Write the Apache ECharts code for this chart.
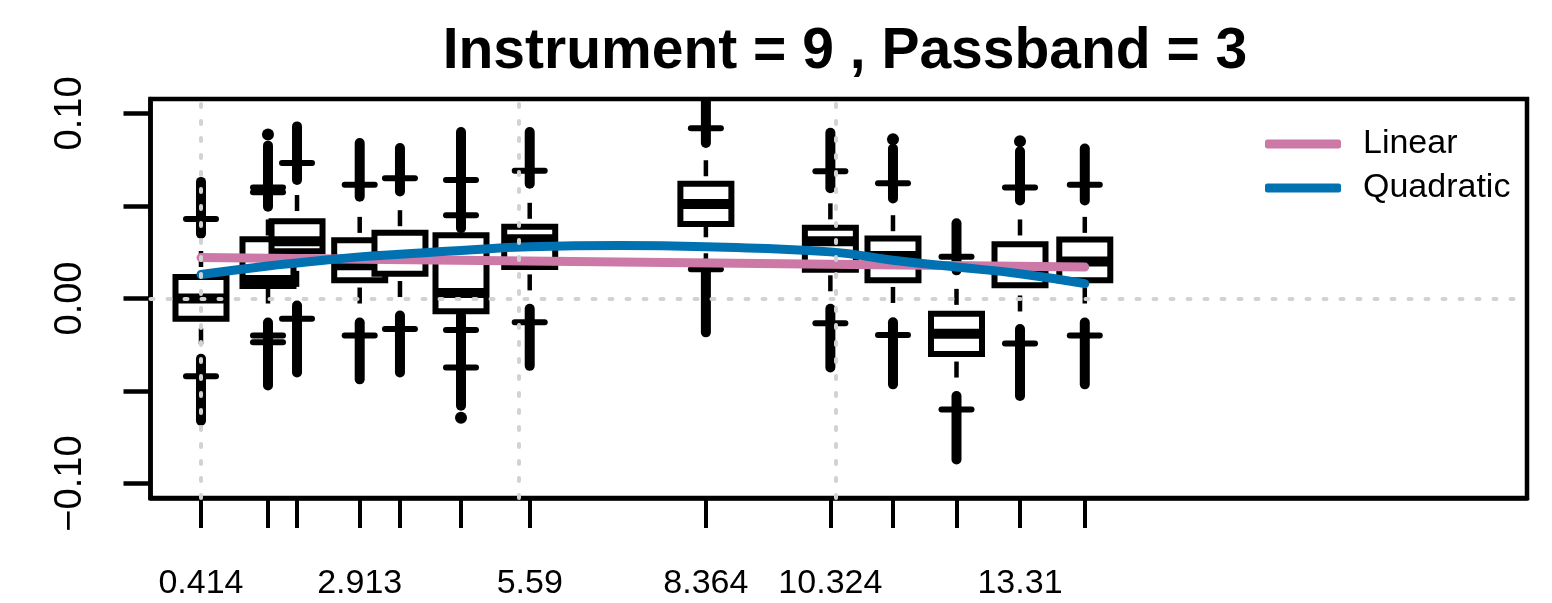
<!DOCTYPE html>
<html>
<head>
<meta charset="utf-8">
<script src="https://cdn.jsdelivr.net/npm/echarts@6/dist/echarts.min.js"></script>
<style>
  html, body { margin: 0; padding: 0; background: #fff; }
  #myChart { width: 1552px; height: 603px; }
</style>
</head>
<body>
<div id="myChart"></div>
<script>
// box positions (x) and the labels R kept on the axis
var positions = [0.414, 1.469, 1.926, 2.913, 3.547, 4.508, 5.59, 8.364, 10.324, 11.31, 12.31, 13.31, 14.33];
var xLabels = [0.414, 2.913, 5.59, 8.364, 10.324, 13.31];
var yTicks = [-0.1, -0.05, 0, 0.05, 0.1];
var yLabels = [-0.1, 0, 0.1];
var refLinesX = [0.414, 5.42, 10.41];

// box statistics
var q1 = [-0.011, 0.0067, 0.0255, 0.0098, 0.0134, -0.0069, 0.017, 0.0402, 0.0156, 0.0098, -0.030, 0.0071, 0.0098];
var median = [0.000, 0.010, 0.031, 0.018, 0.023, 0.003, 0.032, 0.051, 0.031, 0.023, -0.019, 0.016, 0.020];
var q3 = [0.0116, 0.032, 0.0418, 0.0315, 0.0355, 0.0342, 0.0388, 0.062, 0.0382, 0.0324, -0.0083, 0.0293, 0.0319];
var whiskerLo = [-0.042, -0.020, -0.011, -0.020, -0.0165, -0.017, -0.0129, 0.0158, -0.0134, -0.0197, -0.060, -0.0243, -0.020];
var whiskerHi = [0.043, 0.060, 0.0732, 0.0614, 0.065, 0.045, 0.069, 0.092, 0.0687, 0.0623, 0.0225, 0.060, 0.0614];
var extraHi = [null, 0.0574, null, null, null, 0.064, null, null, null, null, null, null, null];
var extraLo = [null, -0.0237, null, null, null, -0.0373, null, null, null, null, null, null, null];
// outlier runs (dense points) below and above each box
var outLoTop = [-0.0326, -0.013, -0.0038, -0.013, -0.0092, -0.0092, -0.0055, 0.019, -0.0056, -0.0129, -0.0527, -0.0165, -0.013];
var outLoBottom = [-0.066, -0.047, -0.040, -0.0437, -0.040, -0.058, -0.0364, -0.0183, -0.0373, -0.0464, -0.087, -0.0527, -0.0464];
var outHiBottom = [0.035, 0.0496, 0.064, 0.055, 0.0578, 0.038, 0.062, 0.084, 0.0596, 0.054, 0.0152, 0.053, 0.053];
var outHiTop = [0.063, 0.0826, 0.093, 0.084, 0.0813, 0.090, 0.090, 0.12, 0.0895, 0.081, 0.0406, 0.0795, 0.081];
var loneOutliers = [[1.469, 0.0886], [4.508, -0.0645], [11.31, 0.086], [13.31, 0.085]];

// fitted curves
var linearFit = [[0.414, 0.0221], [14.33, 0.0170]];
var quadX = [0.414, 1.469, 1.926, 2.913, 3.547, 4.508, 5.59, 7.0, 8.364, 10.324, 11.31, 12.31, 13.31, 14.33];
var quadY = [0.013, 0.0176, 0.0192, 0.0225, 0.0239, 0.026, 0.0279, 0.0286, 0.0279, 0.0252, 0.0207, 0.017, 0.0134, 0.008];

document.addEventListener('DOMContentLoaded', () => {
    var myChart = echarts.init(document.getElementById('myChart'));
    var font = 'Liberation Sans';

    var boxData = positions.map(function (x, i) {
        return [x, q1[i], median[i], q3[i], whiskerLo[i], whiskerHi[i],
            outLoTop[i], outLoBottom[i], outHiBottom[i], outHiTop[i],
            extraLo[i] == null ? NaN : extraLo[i], extraHi[i] == null ? NaN : extraHi[i]];
    });

    // one R-style box: fill, median, dashed whiskers, staples, border, outliers
    function renderBox(params, api) {
        var x = api.value(0);
        var cx = api.coord([x, 0])[0];
        function py(v) { return api.coord([x, v])[1]; }
        var half = 25.5, staple = 15;
        var yQ1 = py(api.value(1)), yMed = py(api.value(2)), yQ3 = py(api.value(3));
        var yWLo = py(api.value(4)), yWHi = py(api.value(5));
        var black = '#000';
        var kids = [];
        kids.push({ type: 'rect', shape: { x: cx - half, y: yQ3, width: half * 2, height: yQ1 - yQ3 },
            style: { fill: '#fff', stroke: null } });
        kids.push({ type: 'line', shape: { x1: cx - half, y1: yMed, x2: cx + half, y2: yMed },
            style: { stroke: black, lineWidth: 10 } });
        kids.push({ type: 'line', shape: { x1: cx, y1: yWHi, x2: cx, y2: yQ3 },
            style: { stroke: black, lineWidth: 4.5, lineDash: [16, 16] } });
        kids.push({ type: 'line', shape: { x1: cx, y1: yWLo, x2: cx, y2: yQ1 },
            style: { stroke: black, lineWidth: 4.5, lineDash: [16, 16] } });
        [yWLo, yWHi, api.value(10), api.value(11)].forEach(function (v, k) {
            if (k >= 2 && isNaN(v)) return;
            var yy = k < 2 ? v : py(v);
            kids.push({ type: 'line', shape: { x1: cx - staple, y1: yy, x2: cx + staple, y2: yy },
                style: { stroke: black, lineWidth: 6, lineCap: 'round' } });
        });
        kids.push({ type: 'rect', shape: { x: cx - half, y: yQ3, width: half * 2, height: yQ1 - yQ3 },
            style: { fill: null, stroke: black, lineWidth: 6 } });
        kids.push({ type: 'line', shape: { x1: cx, y1: py(api.value(6)), x2: cx, y2: py(api.value(7)) },
            style: { stroke: black, lineWidth: 10, lineCap: 'round' } });
        kids.push({ type: 'line', shape: { x1: cx, y1: py(api.value(8)), x2: cx, y2: py(api.value(9)) },
            style: { stroke: black, lineWidth: 10, lineCap: 'round' } });
        return { type: 'group', children: kids };
    }

    var dotted = { color: '#d2d2d2', width: 4, type: [3, 14], cap: 'round' };

    var option = {
        animation: false,
        backgroundColor: '#fff',
        title: {
            text: 'Instrument = 9 , Passband = 3',
            left: 840,
            top: 19,
            textAlign: 'center',
            textStyle: { fontFamily: font, fontSize: 57, fontWeight: 'bold', color: '#000' }
        },
        legend: {
            data: ['Linear', 'Quadratic'],
            orient: 'vertical',
            left: 1260,
            top: 122,
            itemGap: 10,
            itemWidth: 76,
            itemHeight: 9,
            icon: 'roundRect',
            textStyle: { fontFamily: font, fontSize: 34, color: '#000', padding: [0, 0, 0, 17] }
        },
        grid: {
            left: 150.5, right: 25, top: 99, bottom: 105,
            show: true, borderColor: '#000', borderWidth: 4.5, backgroundColor: 'transparent'
        },
        xAxis: {
            type: 'value',
            min: -0.381,
            max: 21.293,
            splitLine: { show: false },
            axisLine: { show: true, onZero: false, lineStyle: { color: '#000', width: 4.5 } },
            axisTick: { show: true, customValues: positions, length: 30, lineStyle: { color: '#000', width: 4 } },
            axisLabel: {
                customValues: xLabels,
                margin: 69,
                fontFamily: font, fontSize: 34, color: '#000',
                formatter: function (v) { return String(v); }
            }
        },
        yAxis: {
            type: 'value',
            min: -0.1078,
            max: 0.1078,
            splitLine: { show: false },
            axisLine: { show: true, onZero: false, lineStyle: { color: '#000', width: 4.5 } },
            axisTick: { show: true, customValues: yTicks, length: 27, lineStyle: { color: '#000', width: 4.5 } },
            axisLabel: {
                customValues: yLabels,
                rotate: 90,
                margin: 61,
                fontFamily: font, fontSize: 38, color: '#000',
                formatter: function (v) { return v.toFixed(2).replace('-', '\u2212'); }
            }
        },
        series: [
            {
                // dotted reference lines
                type: 'line',
                data: [],
                silent: true,
                markLine: {
                    symbol: ['none', 'none'],
                    label: { show: false },
                    lineStyle: dotted,
                    data: [{ yAxis: 0 }].concat(refLinesX.map(function (v) { return { xAxis: v }; }))
                }
            },
            {
                type: 'custom',
                renderItem: renderBox,
                clip: true,
                encode: { x: 0, y: [1, 2, 3] },
                data: boxData
            },
            {
                type: 'scatter',
                symbol: 'circle',
                symbolSize: 12,
                itemStyle: { color: '#000', opacity: 1 },
                data: loneOutliers
            },
            {
                name: 'Linear',
                type: 'line',
                data: linearFit,
                showSymbol: false,
                color: '#CC79A7',
                lineStyle: { width: 9, color: '#CC79A7', cap: 'round' }
            },
            {
                name: 'Quadratic',
                type: 'line',
                data: quadX.map(function (x, i) { return [x, quadY[i]]; }),
                smooth: true,
                showSymbol: false,
                color: '#0072B2',
                lineStyle: { width: 9, color: '#0072B2', cap: 'round' }
            }
        ]
    };

    myChart.setOption(option);
});
</script>
</body>
</html>
